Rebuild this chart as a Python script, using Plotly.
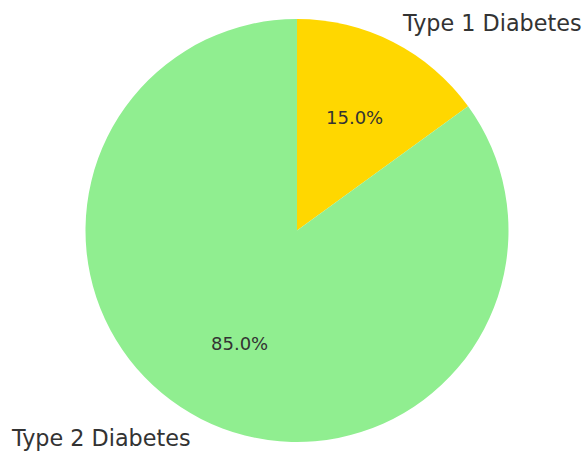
import math
import plotly.graph_objects as go

labels = ["Type 1 Diabetes", "Type 2 Diabetes"]
values = [15, 85]
colors = ["#FFD700", "#90EE90"]

W, H = 583, 451
cx, cy, r = 297, 230.5, 211.5  # pie centre / radius in pixels

fig = go.Figure(go.Pie(
    labels=labels, values=values, sort=False, direction="clockwise", rotation=0,
    marker=dict(colors=colors, line=dict(width=0)),
    textinfo="none", hoverinfo="label+percent",
    domain=dict(x=[(cx - r) / W, (cx + r) / W], y=[(H - cy - r) / H, (H - cy + r) / H]),
    showlegend=False,
))

# labels at 1.1 r and percentages at 0.6 r, like matplotlib's autopct
total = sum(values)
start = 90.0
annotations = []
for lab, v in zip(labels, values):
    frac = v / total
    mid = math.radians(start - frac * 360 / 2)
    start -= frac * 360
    lx, ly = cx + 1.1 * r * math.cos(mid), cy - 1.1 * r * math.sin(mid)
    px_, py_ = cx + 0.6 * r * math.cos(mid), cy - 0.6 * r * math.sin(mid)
    right = math.cos(mid) > 0
    annotations.append(dict(
        x=lx / W, y=1 - ly / H, xref="paper", yref="paper", text=lab, showarrow=False,
        xanchor="left" if right else "right", yanchor="middle",
        xshift=-3 if right else 2,
        font=dict(size=22.3, color="#333333"),
    ))
    annotations.append(dict(
        x=px_ / W, y=1 - py_ / H, xref="paper", yref="paper", text=f"{frac * 100:.1f}%",
        showarrow=False, xanchor="center", yanchor="middle",
        font=dict(size=18, color="#333333"),
    ))

fig.update_layout(
    width=W, height=H, margin=dict(l=0, r=0, t=0, b=0),
    paper_bgcolor="white", plot_bgcolor="white",
    font=dict(family="DejaVu Sans"),
    annotations=annotations,
)

# drop the default 8px page margin so the figure fills the window exactly
fig.write_html("out.html", config={"displayModeBar": False},
               post_script="document.body.style.margin='0';document.body.style.overflow='hidden';")
